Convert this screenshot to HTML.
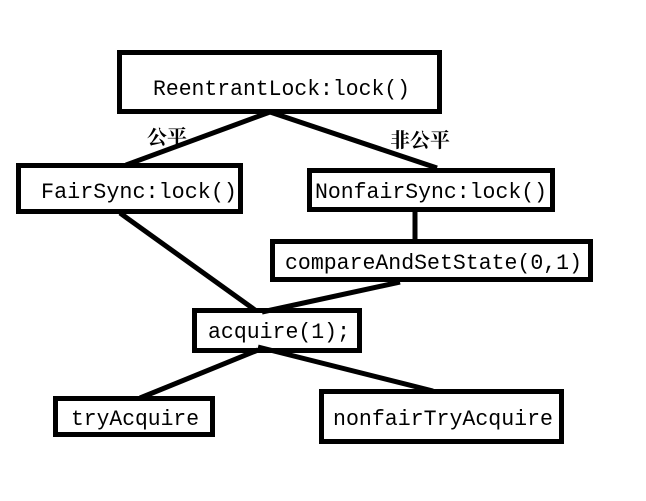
<!DOCTYPE html>
<html><head><meta charset="utf-8"><style>html,body{margin:0;padding:0;background:#fff;}svg{display:block}</style></head>
<body>
<svg width="646" height="501" viewBox="0 0 646 501" xmlns="http://www.w3.org/2000/svg">
<g stroke="#000" stroke-width="5" fill="none">
<rect x="119.5" y="52.5" width="320" height="59"/>
<rect x="18.5" y="165.5" width="222" height="46"/>
<rect x="309.5" y="170.5" width="243" height="39"/>
<rect x="272.5" y="241.5" width="318" height="38"/>
<rect x="194.5" y="310.5" width="165" height="40"/>
<rect x="55.5" y="398.5" width="157" height="36"/>
<rect x="321.5" y="391.5" width="240" height="50"/>
<line x1="270" y1="112" x2="126" y2="165"/>
<line x1="270" y1="112" x2="437" y2="168"/>
<line x1="120" y1="213" x2="255" y2="310"/>
<line x1="415" y1="211" x2="415" y2="240"/>
<line x1="400" y1="282" x2="262" y2="312"/>
<line x1="258" y1="350" x2="140" y2="398"/>
<line x1="258" y1="347" x2="433" y2="391"/>
</g>
<g font-family="'Liberation Mono','Noto Serif CJK SC',monospace" font-size="22" fill="#000">
<text x="153" y="95" textLength="257" lengthAdjust="spacingAndGlyphs">ReentrantLock:lock()</text>
<text x="41" y="198" textLength="196" lengthAdjust="spacingAndGlyphs">FairSync:lock()</text>
<text x="315" y="198" textLength="232" lengthAdjust="spacingAndGlyphs">NonfairSync:lock()</text>
<text x="285" y="269" textLength="297" lengthAdjust="spacingAndGlyphs">compareAndSetState(0,1)</text>
<text x="208" y="338" textLength="142" lengthAdjust="spacingAndGlyphs">acquire(1);</text>
<text x="71" y="425" textLength="128" lengthAdjust="spacingAndGlyphs">tryAcquire</text>
<text x="333" y="425" textLength="220" lengthAdjust="spacingAndGlyphs">nonfairTryAcquire</text>
</g>
<g font-family="'Noto Serif CJK SC','Noto Sans CJK SC',serif" font-size="20" font-weight="bold" fill="#000">
<text x="147" y="144">公平</text>
<text x="390" y="147">非公平</text>
</g>
</svg>
</body></html>
